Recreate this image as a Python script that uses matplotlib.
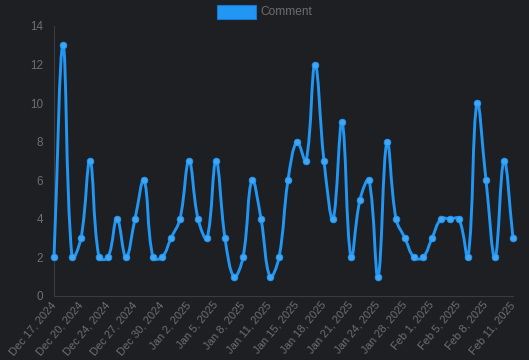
import matplotlib.pyplot as plt
import numpy as np
from matplotlib.path import Path
from matplotlib.patches import PathPatch, Rectangle

plt.rcParams["font.family"] = ["Liberation Sans", "DejaVu Sans"]

dates = [
    "Dec 17, 2024", "Dec 18, 2024", "Dec 19, 2024", "Dec 20, 2024", "Dec 21, 2024",
    "Dec 23, 2024", "Dec 24, 2024", "Dec 25, 2024", "Dec 26, 2024", "Dec 27, 2024",
    "Dec 28, 2024", "Dec 29, 2024", "Dec 30, 2024", "Dec 31, 2024", "Jan 1, 2025",
    "Jan 2, 2025", "Jan 3, 2025", "Jan 4, 2025", "Jan 5, 2025", "Jan 6, 2025",
    "Jan 7, 2025", "Jan 8, 2025", "Jan 9, 2025", "Jan 10, 2025", "Jan 11, 2025",
    "Jan 12, 2025", "Jan 14, 2025", "Jan 15, 2025", "Jan 16, 2025", "Jan 17, 2025",
    "Jan 18, 2025", "Jan 19, 2025", "Jan 20, 2025", "Jan 21, 2025", "Jan 22, 2025",
    "Jan 23, 2025", "Jan 24, 2025", "Jan 25, 2025", "Jan 27, 2025", "Jan 28, 2025",
    "Jan 29, 2025", "Jan 31, 2025", "Feb 1, 2025", "Feb 2, 2025", "Feb 4, 2025",
    "Feb 5, 2025", "Feb 6, 2025", "Feb 7, 2025", "Feb 8, 2025", "Feb 9, 2025",
    "Feb 10, 2025", "Feb 11, 2025",
]
comments = [2, 13, 2, 3, 7, 2, 2, 4, 2, 4, 6, 2, 2, 3, 4, 7, 4, 3, 7, 3,
            1, 2, 6, 4, 1, 2, 6, 8, 7, 12, 7, 4, 9, 2, 5, 6, 1, 8, 4, 3,
            2, 2, 3, 4, 4, 4, 2, 10, 6, 2, 7, 3]
y_ticks = [0, 2, 4, 6, 8, 10, 12, 14]

BG = "#1e1f22"
LINE = "#2196f3"
POINT = "#3ea6f5"
TEXT = "#6e6e6e"
AXIS = "#3a3b3e"

W, H, DPI = 529, 360, 100
left, right, top, bottom = 54, 513, 26, 296

fig = plt.figure(figsize=(W / DPI, H / DPI), dpi=DPI, facecolor=BG)
ax = fig.add_axes([left / W, 1 - bottom / H, (right - left) / W, (bottom - top) / H])
ax.set_facecolor(BG)

n = len(comments)
xs = np.arange(n, dtype=float)
ys = np.array(comments, dtype=float)
ymax = y_ticks[-1]

# spline like Chart.js (tension 0.4), computed in pixel space
sx = (right - left) / (n - 1)
sy = (bottom - top) / ymax
px, py = xs * sx, ys * sy
tension = 0.4
cp_prev, cp_next = [], []
for i in range(n):
    p0 = (px[max(i - 1, 0)], py[max(i - 1, 0)])
    p1 = (px[i], py[i])
    p2 = (px[min(i + 1, n - 1)], py[min(i + 1, n - 1)])
    d01 = np.hypot(p1[0] - p0[0], p1[1] - p0[1])
    d12 = np.hypot(p2[0] - p1[0], p2[1] - p1[1])
    tot = d01 + d12
    s01 = d01 / tot if tot else 0
    s12 = d12 / tot if tot else 0
    fa, fb = tension * s01, tension * s12
    c1 = (p1[0] - fa * (p2[0] - p0[0]), p1[1] - fa * (p2[1] - p0[1]))
    c2 = (p1[0] + fb * (p2[0] - p0[0]), p1[1] + fb * (p2[1] - p0[1]))
    cp_prev.append((np.clip(c1[0] / sx, 0, n - 1), np.clip(c1[1] / sy, 0, ymax)))
    cp_next.append((np.clip(c2[0] / sx, 0, n - 1), np.clip(c2[1] / sy, 0, ymax)))

verts = [(xs[0], ys[0])]
codes = [Path.MOVETO]
for i in range(1, n):
    verts += [cp_next[i - 1], cp_prev[i], (xs[i], ys[i])]
    codes += [Path.CURVE4] * 3
ax.add_patch(PathPatch(Path(verts, codes), facecolor="none", edgecolor=LINE,
                       linewidth=2.1, capstyle="round", joinstyle="round",
                       clip_on=False, zorder=3))
ax.plot(xs, ys, linestyle="none", marker="o", markersize=4.8, color=POINT,
        markeredgecolor=LINE, markeredgewidth=0.6, clip_on=False, zorder=4)

ax.set_xlim(0, n - 1)
ax.set_ylim(0, ymax)
ax.set_yticks(y_ticks)
ax.set_xticks(xs[::3])
ax.set_xticklabels(dates[::3], rotation=50, ha="right", va="center",
                   rotation_mode="anchor")
ax.tick_params(axis="both", length=0, colors=TEXT, labelsize=8.4)
ax.tick_params(axis="x", pad=5, labelsize=8.0)
ax.tick_params(axis="y", pad=8)
for side in ("top", "right"):
    ax.spines[side].set_visible(False)
for side in ("left", "bottom"):
    ax.spines[side].set_color(AXIS)
    ax.spines[side].set_linewidth(0.8)

# legend
fig.patches.append(Rectangle((217 / W, 1 - 19 / H), 39 / W, 14 / H,
                             transform=fig.transFigure, facecolor=LINE,
                             edgecolor="#1976d2", linewidth=0.8))
fig.text(260 / W, 1 - 12 / H, "Comment", color=TEXT, fontsize=8.6,
         ha="left", va="center")

fig.savefig("out.png", dpi=DPI, facecolor=BG)
